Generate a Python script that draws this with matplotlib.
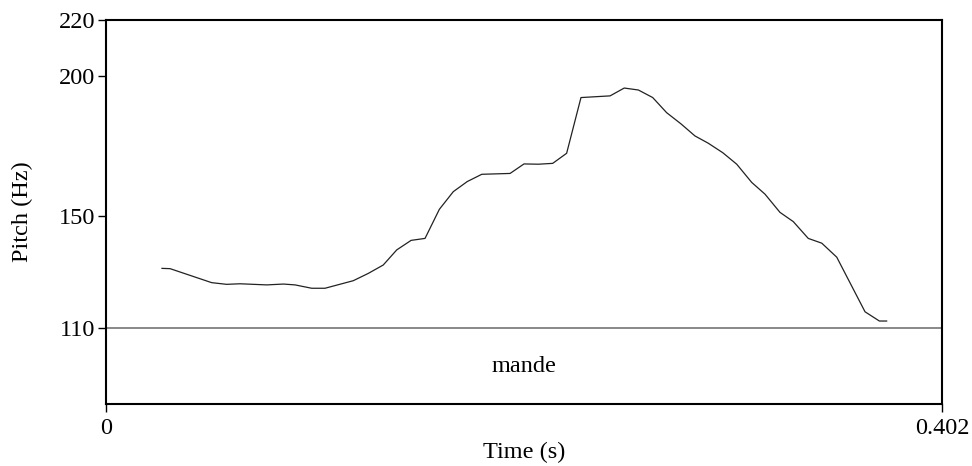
import matplotlib
matplotlib.use("Agg")
import matplotlib.pyplot as plt

plt.rcParams['font.family'] = ['Liberation Serif', 'DejaVu Serif']

# pitch track (time in s, pitch in Hz)
times = [0.0269, 0.0308, 0.0508, 0.0580, 0.0644, 0.0773, 0.0853, 0.0909, 0.0989, 0.1053,
         0.1189, 0.1261, 0.1333, 0.1398, 0.1467, 0.1534, 0.1603, 0.1670, 0.1737, 0.1807,
         0.1943, 0.2010, 0.2079, 0.2148, 0.2215, 0.2284, 0.2424, 0.2492, 0.2560, 0.2629,
         0.2696, 0.2765, 0.2832, 0.2896, 0.2966, 0.3033, 0.3105, 0.3169, 0.3241, 0.3305,
         0.3377, 0.3442, 0.3514, 0.3650, 0.3719, 0.3754]
pitch = [131.3, 131.2, 126.2, 125.6, 125.8, 125.4, 125.7, 125.4, 124.2, 124.2,
         126.9, 129.5, 132.5, 137.9, 141.3, 142.0, 152.4, 158.7, 162.3, 164.9,
         165.2, 168.6, 168.5, 168.8, 172.4, 192.3, 192.9, 195.7, 195.0, 192.3,
         186.9, 182.9, 178.6, 176.0, 172.6, 168.5, 162.0, 157.8, 151.3, 148.0,
         142.0, 140.3, 135.3, 115.8, 112.5, 112.5]

y_ticks = [110, 150, 200, 220]
x_ticks = [0, 0.402]
x_tick_labels = ['0', '0.402']
word = 'mande'

t_end = 0.402
f_top = 220
f_tier = 110
f_bottom = 82.86  # bottom of text tier

fs = 17.5

fig = plt.figure(figsize=(9.72, 4.66), dpi=100)
ax = fig.add_axes([0.1091, 0.1330, 0.8600, 0.8241])

ax.plot(times, pitch, color='#222222', lw=0.9)
ax.axhline(f_tier, color='#888888', lw=1.4)
ax.text(t_end / 2, (f_tier + f_bottom) / 2, word, ha='center', va='center', fontsize=fs)

ax.set_xlim(0, t_end)
ax.set_ylim(f_bottom, f_top)
ax.set_yticks(y_ticks)
ax.set_xticks(x_ticks)
ax.set_xticklabels(x_tick_labels)
ax.tick_params(labelsize=fs, length=6, width=1)
ax.tick_params(axis='y', pad=2)
ax.tick_params(axis='x', pad=4)
for s in ax.spines.values():
    s.set_linewidth(1.5)

ax.set_xlabel('Time (s)', fontsize=fs, labelpad=2)
ax.set_ylabel('Pitch (Hz)', fontsize=fs, labelpad=18)

fig.savefig('out.png', dpi=100)
